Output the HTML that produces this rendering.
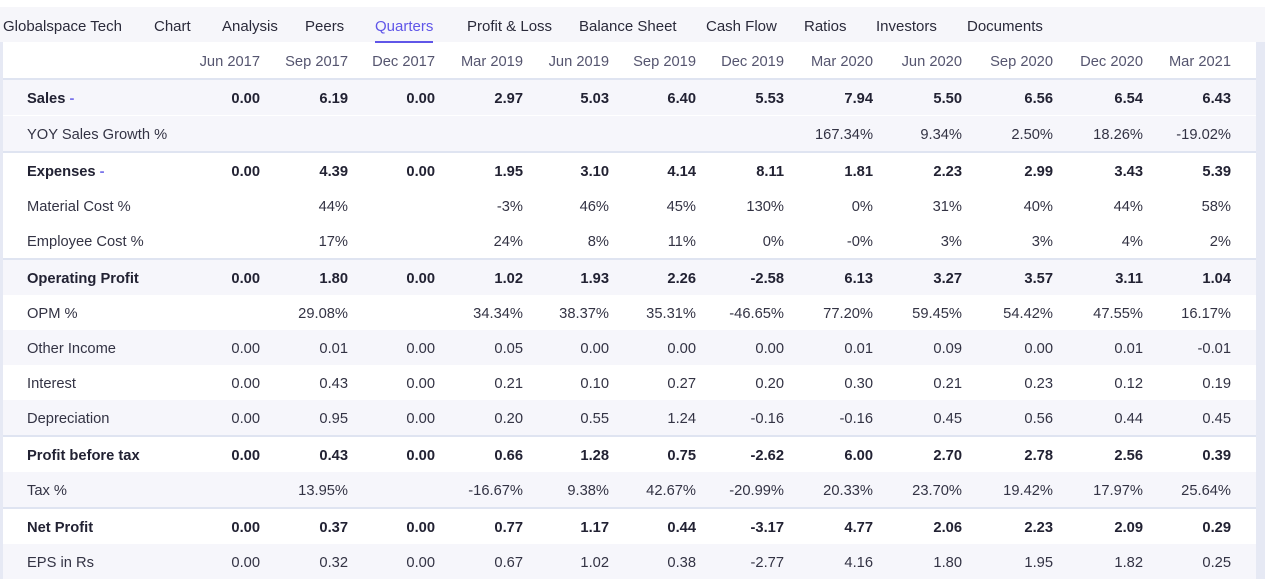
<!DOCTYPE html>
<html><head><meta charset="utf-8"><style>
*{margin:0;padding:0;box-sizing:border-box}
body{width:1265px;height:579px;overflow:hidden;background:#fff;font-family:"Liberation Sans",sans-serif;font-size:14.7px;color:#333344;position:relative}
.nav{position:absolute;left:0;top:7px;width:1265px;height:35px;background:#f6f6fa}
.nav span{position:absolute;top:11px;font-size:15px;color:#2a2a3a}
.nav .act{color:#6056e8}
.nav .act:after{content:"";position:absolute;left:0;right:0;top:23px;height:2px;background:#6056e8}
.ls{position:absolute;left:0;top:42px;width:3px;height:537px;background:#e6e9f4}
.rs{position:absolute;left:1256px;top:42px;width:9px;height:537px;background:#e6e9f4}
.row{position:absolute;left:3px;width:1253px;height:35px;padding-top:3px;display:grid;grid-template-columns:257px 88px 87px 88px 86px 87px 88px 89px 89px 91px 90px 88px;align-items:center}
.row div{text-align:right;white-space:nowrap}
.row .lb{position:absolute;left:24px;top:2px;line-height:35px;text-align:left}
.sh{background:#f6f6fb}
.b{font-weight:bold;color:#222233}
.hd{color:#55556f}
.bd{position:absolute;left:3px;width:1253px;height:2px;background:#dfe4f1}
.m{color:#7a74ea}
</style></head><body>
<div class="nav">
<span style="left:3px">Globalspace Tech</span><span style="left:154px">Chart</span><span style="left:222px">Analysis</span><span style="left:305px">Peers</span><span class="act" style="left:375px">Quarters</span><span style="left:467px">Profit &amp; Loss</span><span style="left:579px">Balance Sheet</span><span style="left:706px">Cash Flow</span><span style="left:804px">Ratios</span><span style="left:876px">Investors</span><span style="left:967px">Documents</span>
</div>
<div class="ls"></div><div class="rs"></div>
<div class="row hd" style="top:43px"><div>Jun 2017</div><div>Sep 2017</div><div>Dec 2017</div><div>Mar 2019</div><div>Jun 2019</div><div>Sep 2019</div><div>Dec 2019</div><div>Mar 2020</div><div>Jun 2020</div><div>Sep 2020</div><div>Dec 2020</div><div>Mar 2021</div></div>
<div class="bd" style="top:78px"></div>
<div class="row sh b" style="top:80px"><span class="lb">Sales <span class="m">-</span></span><div>0.00</div><div>6.19</div><div>0.00</div><div>2.97</div><div>5.03</div><div>6.40</div><div>5.53</div><div>7.94</div><div>5.50</div><div>6.56</div><div>6.54</div><div>6.43</div></div>
<div class="row sh" style="top:116px"><span class="lb">YOY Sales Growth %</span><div></div><div></div><div></div><div></div><div></div><div></div><div></div><div>167.34%</div><div>9.34%</div><div>2.50%</div><div>18.26%</div><div>-19.02%</div></div>
<div class="bd" style="top:151px"></div>
<div class="row b" style="top:153px"><span class="lb">Expenses <span class="m">-</span></span><div>0.00</div><div>4.39</div><div>0.00</div><div>1.95</div><div>3.10</div><div>4.14</div><div>8.11</div><div>1.81</div><div>2.23</div><div>2.99</div><div>3.43</div><div>5.39</div></div>
<div class="row" style="top:188px"><span class="lb">Material Cost %</span><div></div><div>44%</div><div></div><div>-3%</div><div>46%</div><div>45%</div><div>130%</div><div>0%</div><div>31%</div><div>40%</div><div>44%</div><div>58%</div></div>
<div class="row" style="top:223px"><span class="lb">Employee Cost %</span><div></div><div>17%</div><div></div><div>24%</div><div>8%</div><div>11%</div><div>0%</div><div>-0%</div><div>3%</div><div>3%</div><div>4%</div><div>2%</div></div>
<div class="bd" style="top:258px"></div>
<div class="row sh b" style="top:260px"><span class="lb">Operating Profit</span><div>0.00</div><div>1.80</div><div>0.00</div><div>1.02</div><div>1.93</div><div>2.26</div><div>-2.58</div><div>6.13</div><div>3.27</div><div>3.57</div><div>3.11</div><div>1.04</div></div>
<div class="row" style="top:295px"><span class="lb">OPM %</span><div></div><div>29.08%</div><div></div><div>34.34%</div><div>38.37%</div><div>35.31%</div><div>-46.65%</div><div>77.20%</div><div>59.45%</div><div>54.42%</div><div>47.55%</div><div>16.17%</div></div>
<div class="row sh" style="top:330px"><span class="lb">Other Income</span><div>0.00</div><div>0.01</div><div>0.00</div><div>0.05</div><div>0.00</div><div>0.00</div><div>0.00</div><div>0.01</div><div>0.09</div><div>0.00</div><div>0.01</div><div>-0.01</div></div>
<div class="row" style="top:365px"><span class="lb">Interest</span><div>0.00</div><div>0.43</div><div>0.00</div><div>0.21</div><div>0.10</div><div>0.27</div><div>0.20</div><div>0.30</div><div>0.21</div><div>0.23</div><div>0.12</div><div>0.19</div></div>
<div class="row sh" style="top:400px"><span class="lb">Depreciation</span><div>0.00</div><div>0.95</div><div>0.00</div><div>0.20</div><div>0.55</div><div>1.24</div><div>-0.16</div><div>-0.16</div><div>0.45</div><div>0.56</div><div>0.44</div><div>0.45</div></div>
<div class="bd" style="top:435px"></div>
<div class="row b" style="top:437px"><span class="lb">Profit before tax</span><div>0.00</div><div>0.43</div><div>0.00</div><div>0.66</div><div>1.28</div><div>0.75</div><div>-2.62</div><div>6.00</div><div>2.70</div><div>2.78</div><div>2.56</div><div>0.39</div></div>
<div class="row sh" style="top:472px"><span class="lb">Tax %</span><div></div><div>13.95%</div><div></div><div>-16.67%</div><div>9.38%</div><div>42.67%</div><div>-20.99%</div><div>20.33%</div><div>23.70%</div><div>19.42%</div><div>17.97%</div><div>25.64%</div></div>
<div class="bd" style="top:507px"></div>
<div class="row b" style="top:509px"><span class="lb">Net Profit</span><div>0.00</div><div>0.37</div><div>0.00</div><div>0.77</div><div>1.17</div><div>0.44</div><div>-3.17</div><div>4.77</div><div>2.06</div><div>2.23</div><div>2.09</div><div>0.29</div></div>
<div class="row sh" style="top:544px"><span class="lb">EPS in Rs</span><div>0.00</div><div>0.32</div><div>0.00</div><div>0.67</div><div>1.02</div><div>0.38</div><div>-2.77</div><div>4.16</div><div>1.80</div><div>1.95</div><div>1.82</div><div>0.25</div></div>
</body></html>
